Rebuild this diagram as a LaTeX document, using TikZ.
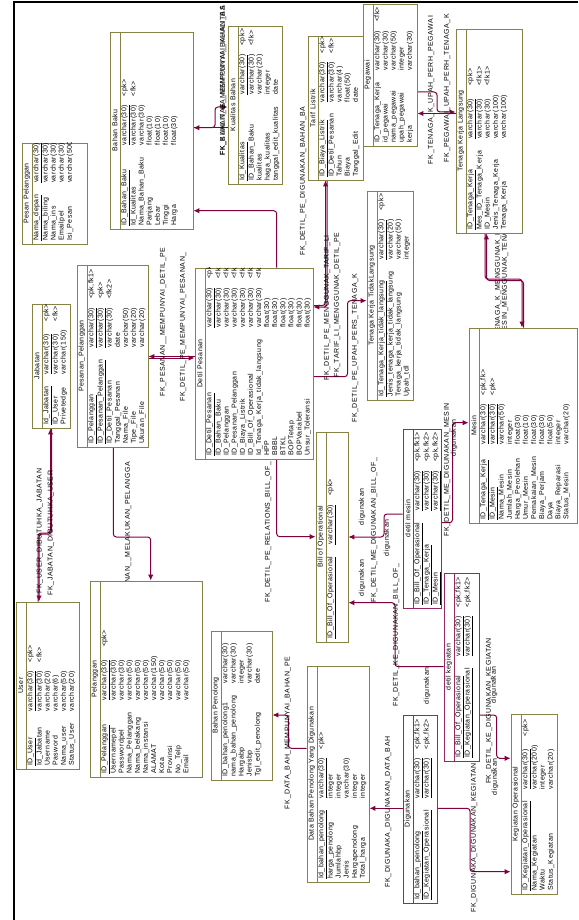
\documentclass[tikz,border=0pt]{standalone}
\usepackage{fontspec}
\setmainfont[LetterSpace=8]{Liberation Sans}
\newfontfamily\tblfont[LetterSpace=6]{Liberation Sans}
\usetikzlibrary{arrows.meta,positioning,fit,backgrounds}

\definecolor{tblolive}{RGB}{135,130,70}
\definecolor{assoc}{RGB}{150,40,100}
\definecolor{fkline}{RGB}{128,0,64}

\tikzset{
    tbl/.style={draw=tblolive, line width=0.9pt, fill=white, inner sep=0pt},
    ttl/.style={rotate=90, inner sep=0pt, font=\tblfont\fontsize{7}{8.1}\selectfont},
    colrows/.style={rotate=90, anchor=north west, inner sep=0pt, font=\tblfont\fontsize{7}{8.1}\selectfont},
    lbl/.style={rotate=90, inner sep=0pt, font=\fontsize{7}{8.1}\selectfont},
    fk/.style={draw=fkline, line width=1pt, rounded corners=3pt, -{Latex[length=6pt,width=5.5pt]}}
}

% table: [border colour]{name}{x1}{y1}{x2}{y2}{title}{rows}
\newcommand{\ertable}[8][tblolive]{%
    \node[tbl, draw=#1, fit={(#3,#4) (#5,#6)}] (#2) {};
    \draw[#1, line width=0.8pt] ([xshift=10.5pt]#2.north west) -- ([xshift=10.5pt]#2.south west);
    \node[ttl] (#2-title) at ([xshift=5.25pt]#2.west) {#7};
    \begin{scope}
        \clip (#2.south west) rectangle (#2.north east);
        \node[colrows] (#2-cols) at ([xshift=11pt,yshift=3.5pt]#2.south west)
            {\begin{tabular}{@{}l@{\hspace{12pt}}l@{\hspace{9pt}}l@{}}#8\end{tabular}};
    \end{scope}}

\begin{document}
\begin{tikzpicture}[x=1pt, y=-1pt]
    \useasboundingbox (0,0) rectangle (578,920);
    \draw[line width=2.5pt] (14,920) -- (14,2) -- (578,2);

    % tables
    \ertable{user}{16}{602}{79}{769}{User}{%
        \underline{ID\_User} & \underline{varchar(30)} & <pk>\\
        Id\_Jabatan & varchar(30) & <fk>\\
        Username & varchar(20) & \\
        Pasword & varchar(6) & \\
        Nama\_user & varchar(50) & \\
        Status\_User & varchar(20) & }
    \ertable{pelanggan}{90}{581}{202}{777}{Pelanggan}{%
        \underline{ID\_Pelanggan} & \underline{varchar(30)} & <pk>\\
        Usernamepel & varchar(30) & \\
        Passwordpel & varchar(30) & \\
        Nama\_Pelanggan & varchar(50) & \\
        Nama\_belakang & varchar(50) & \\
        Nama\_instansi & varchar(50) & \\
        ALAMAT & varchar(150) & \\
        Kota & varchar(50) & \\
        Provinsi & varchar(50) & \\
        No\_Telp & varchar(50) & \\
        Email & varchar(50) & }
    \ertable{penolong}{211}{631}{272}{780}{Bahan Penolong}{%
        ID\_bahan\_penolong1 & varchar(30) & \\
        nama\_bahan\_penolong & varchar(30) & \\
        Hargabp & integer & \\
        Jenisbp & varchar(30) & \\
        Tgl\_edit\_penolong & date & }
    \ertable{databp}{307}{666}{369}{882}{Data Bahan Penolong Yang Digunakan}{%
        \underline{Id\_bahan\_penolong} & \underline{varchar(30)} & <pk>\\
        harga\_penolong & integer & \\
        Jumlahbp & integer & \\
        Jenis & varchar(30) & \\
        Hargapenolong & integer & \\
        Total\_harga & integer & }
    \ertable[assoc]{digunakan}{403}{715}{437}{903}{Digunakan}{%
        \underline{Id\_bahan\_penolong} & \underline{varchar(30)} & <pk,fk1>\\
        \underline{ID\_Kegiatan\_Operasional} & \underline{varchar(30)} & <pk,fk2>}
    \ertable{kegiatan}{511}{714}{557}{894}{Kegiatan Operasional}{%
        \underline{ID\_Kegiatan\_Operasional} & \underline{varchar(30)} & <pk>\\
        Nama\_Kegiatan & varchar(200) & \\
        Waktu & integer & \\
        Status\_Kegiatan & varchar(20) & }
    \ertable[assoc]{dkegiatan}{444}{573}{479}{761}{detil kegiatan}{%
        \underline{ID\_Bill\_Of\_Operasional} & \underline{varchar(30)} & <pk,fk1>\\
        \underline{ID\_Kegiatan\_Operasional} & \underline{varchar(30)} & <pk,fk2>}
    \ertable[assoc]{dmesin}{403}{429}{441}{608}{detil mesin}{%
        \underline{ID\_Bill\_Of\_Operasional} & \underline{varchar(30)} & <pk,fk1>\\
        \underline{ID\_Tenaga\_Kerja} & \underline{varchar(30)} & <pk,fk2>\\
        \underline{ID\_Mesin} & \underline{varchar(30)} & <pk,fk2>}
    \ertable{bill}{316}{432}{348}{642}{Bill of Operational}{%
        \underline{ID\_Bill\_Of\_Operasional} & \underline{varchar(30)} & <pk>}
    \ertable{detil}{195}{268}{313}{459}{Detil Pesanan}{%
        \underline{ID\_Detil\_Pesanan} & \underline{varchar(30)} & <pk>\\
        ID\_Bahan\_Baku & varchar(30) & <fk1>\\
        ID\_Pelanggan & varchar(30) & <fk2>\\
        ID\_Pesanan\_Pelanggan & varchar(30) & <fk2>\\
        ID\_Biaya\_Listrik & varchar(30) & <fk3>\\
        ID\_Bill\_Of\_Operasional & varchar(30) & <fk4>\\
        Id\_Tenaga\_Kerja\_tidak\_langsung & varchar(30) & <fk5>\\
        HPP & float(30) & \\
        BBBL & float(30) & \\
        BTKL & float(30) & \\
        BOPTetap & float(30) & \\
        BOPVariabel & float(30) & \\
        Unsur\_Toleransi & float(30) & }
    \ertable{pesanan}{77}{265}{148}{447}{Pesanan\_Pelanggan}{%
        \underline{ID\_Pelanggan} & \underline{varchar(30)} & <pk,fk1>\\
        \underline{ID\_Pesanan\_Pelanggan} & \underline{varchar(30)} & <pk>\\
        ID\_Detil\_Pesanan & varchar(30) & <fk2>\\
        Tanggal\_Pesanan & date & \\
        Nama\_File & varchar(50) & \\
        Tipe\_File & varchar(20) & \\
        Ukuran\_File & varchar(20) & }
    \ertable{jabatan}{32}{304}{70}{428}{Jabatan}{%
        \underline{Id\_Jabatan} & \underline{varchar(30)} & <pk>\\
        ID\_User & varchar(30) & <fk>\\
        Privetedge & varchar(150) & }
    \ertable{pesan}{22}{143}{87}{244}{Pesan Pelanggan}{%
        \underline{Nama\_depan} & \underline{varchar(30)} & \\
        Nama\_biling & varchar(30) & \\
        Nama\_ins & varchar(30) & \\
        Emailpel & varchar(30) & \\
        Isi\_Pesan & varchar(500) & }
    \ertable{bahanbaku}{110}{32}{193}{229}{Bahan Baku}{%
        \underline{ID\_Bahan\_Baku} & \underline{varchar(30)} & <pk>\\
        Id\_Kualitas & varchar(30) & <fk>\\
        Nama\_Bahan\_Baku & varchar(30) & \\
        Panjang & float(10) & \\
        Lebar & float(10) & \\
        Tinggi & float(10) & \\
        Harga & float(30) & }
    \ertable{kualitas}{228}{26}{282}{184}{Kualitas Bahan}{%
        \underline{Id\_Kualitas} & \underline{varchar(30)} & <pk>\\
        ID\_Bahan\_Baku & varchar(30) & <fk>\\
        kualitas & varchar(20) & \\
        haga\_kualitas & integer & \\
        tanggal\_edit\_kualitas & date & }
    \ertable{tarif}{308}{36}{363}{180}{Tarif Listrik}{%
        \underline{ID\_Biaya\_Listrik} & \underline{varchar(30)} & <pk>\\
        ID\_Detil\_Pesanan & varchar(30) & <fk>\\
        Tahun & varchar(4) & \\
        Biaya & float(50) & \\
        Tanggal\_Edit & date & }
    \ertable{pegawai}{363}{4}{417}{146}{Pegawai}{%
        ID\_Tenaga\_Kerja & varchar(30) & <fk>\\
        id\_pegawai & varchar(30) & \\
        nama\_pegawai & varchar(50) & \\
        upah\_pegawai & integer & \\
        kerja & varchar(30) & }
    \ertable{tkl}{456}{29}{522}{233}{Tenaga Kerja Langsung}{%
        \underline{ID\_Tenaga\_Kerja} & \underline{varchar(30)} & <pk>\\
        Mes\_ID\_Tenaga\_Kerja & varchar(30) & <fk1>\\
        ID\_Mesin & varchar(30) & <fk1>\\
        Jenis\_Tenaga\_Kerja & varchar(100) & \\
        Tenaga\_Kerja & varchar(100) & }
    \ertable{tktl}{367}{191}{413}{400}{Tenaga Kerja TidakLangsung}{%
        \underline{Id\_Tenaga\_Kerja\_tidak\_langsung} & \underline{varchar(30)} & <pk>\\
        Jenis\_tenaga\_kerja\_tidak\_langsung & varchar(20) & \\
        Tenaga\_kerja\_tidak\_langsung & varchar(50) & \\
        Upah\_tdl & integer & }
    \ertable{mesin}{469}{328}{577}{523}{Mesin}{%
        \underline{ID\_Tenaga\_Kerja} & \underline{varchar(30)} & <pk,fk>\\
        \underline{ID\_Mesin} & \underline{varchar(30)} & <pk>\\
        Nama\_Mesin & varchar(50) & \\
        Jumlah\_Mesin & integer & \\
        Harga\_Perolehan & float(30) & \\
        Umur\_Mesin & float(10) & \\
        Pemakaian\_Mesin & float(30) & \\
        Biaya\_Perjam & float(30) & \\
        Daya & float(50) & \\
        Biaya\_Reparasi & integer & \\
        Status\_Mesin & varchar(20) & }

    \begin{pgfonlayer}{background}
        % references
        \draw[fk] (38,0 |- user.north) |- (50.5,533) -- (50.5,0 |- jabatan.south);
        \draw[fk] (51.5,0 |- jabatan.south) |- (39,534) -- (39,0 |- user.north);
        \draw[fk] (113.3,0 |- pesanan.south) |- (150.7,537) -- (150.7,0 |- pelanggan.north);
        \draw[fk] (detil.west |- 0,356.5) -- (pesanan.east |- 0,356.5);
        \draw[fk] (pesanan.east |- 0,358) -- (detil.west |- 0,358);
        \draw[fk] (276.7,0 |- detil.south) |- (bill.west |- 0,536.7);
        \draw[fk] (276.7,0 |- detil.north) |- (bahanbaku.east |- 0,210.7);
        \draw[fk] (kualitas.west |- 0,127.7) -- (bahanbaku.east |- 0,127.7);
        \draw[fk] (bahanbaku.east |- 0,127.7) -| (215,107) -- (kualitas.west |- 0,107);
        \draw[fk] (detil.east |- 0,305.5) -| (325.5,0 |- tarif.south);
        \draw[fk] (327,0 |- tarif.south) |- (detil.east |- 0,307);
        \draw[fk] (detil.east |- 0,376.7) -| (347.5,300.7) -- (tktl.west |- 0,300.7);
        \draw[fk] (tkl.west |- 0,113.5) -- (pegawai.east |- 0,113.5);
        \draw[fk] (pegawai.east |- 0,92) -| (437,112) -- (tkl.west |- 0,112);
        \draw[fk] (485,0 |- tkl.south) |- (522,279) -- (522,0 |- mesin.north);
        \draw[fk] (523.5,0 |- mesin.north) |- (486.5,280.5) -- (486.5,0 |- tkl.south);
        \draw[fk] (dmesin.east |- 0,522.7) -| (452.5,422.7) -- (mesin.west |- 0,422.7);
        \draw[fk] (dmesin.west |- 0,514) -| (384,537) -- (bill.east |- 0,537);
        \draw[fk] (dkegiatan.west |- 0,666.7) -| (395,602.7) -- (bill.east |- 0,602.7);
        \draw[fk] (dkegiatan.east |- 0,715) -| (496.7,758.3) -- (kegiatan.west |- 0,758.3);
        \draw[fk] (digunakan.east |- 0,808.3) -| (470,871.7) -- (kegiatan.west |- 0,871.7);
        \draw[fk] (digunakan.west |- 0,808.3) -- (databp.east |- 0,808.3);
        \draw[fk] (databp.west |- 0,748.3) -| (288.3,715) -- (penolong.east |- 0,715);

        % reference names
        \foreach \x/\y/\lab [count=\i] in {
            40/531/FK\_USER\_DIBUTUHKA\_JABATAN,
            51/533/FK\_JABATAN\_DIBUTUHKA\_USER,
            163/322/FK\_PESANAN\_\_MEMPUNYAI\_DETIL\_PE,
            183/327/FK\_DETIL\_PE\_MEMPUNYAI\_PESANAN\_,
            268/532/FK\_DETIL\_PE\_RELATIONS\_BILL\_OF\_,
            303/181/FK\_DETIL\_PE\_DIGUNAKAN\_BAHAN\_BA,
            223/81/FK\_BAHAN\_BA\_MEMPUNYAI\_KUALITAS,
            223/81/FK\_KUALITAS\_MEMPUNYAI\_BAHAN\_BA,
            327/308/FK\_DETIL\_PE\_MENGGUNAK\_TARIF\_LI,
            337/305/FK\_TARIF\_LI\_MENGGUNAK\_DETIL\_PE,
            355/348/FK\_DETIL\_PE\_UPAH\_PERS\_TENAGA\_K,
            431/90/FK\_TENAGA\_K\_UPAH\_PERH\_PEGAWAI,
            447/88/FK\_PEGAWAI\_UPAH\_PERH\_TENAGA\_K,
            498/281/FK\_TENAGA\_K\_MENGGUNAK\_MESIN,
            505/281/FK\_MESIN\_MENGGUNAK\_TENAGA\_K,
            447/470/FK\_DETIL\_ME\_DIGUNAKAN\_MESIN,
            374/530/FK\_DETIL\_ME\_DIGUNAKAN\_BILL\_OF\_,
            396/635/FK\_DETIL\_KE\_DIGUNAKAN\_BILL\_OF\_,
            489/711/FK\_DETIL\_KE\_DIGUNAKAN\_KEGIATAN,
            474/838/FK\_DIGUNAKA\_DIGUNAKAN\_KEGIATAN,
            388/812/FK\_DIGUNAKA\_DIGUNAKAN\_DATA\_BAH,
            288/733/FK\_DATA\_BAH\_MEMPUNYAI\_BAHAN\_PE}
            \node[lbl] (fk\i) at (\x,\y) {\lab};
        \node[lbl, anchor=east] (fkmel) at (128,462) {FK\_PESANAN\_\_MELAKUKAN\_PELANGGA};

        % role names
        \foreach \x/\y [count=\i] in {362/507, 387/538, 362/578, 427/686, 494/685, 495/777, 454/438}
            \node[lbl] (d\i) at (\x,\y) {digunakan};
    \end{pgfonlayer}
\end{tikzpicture}
\end{document}
